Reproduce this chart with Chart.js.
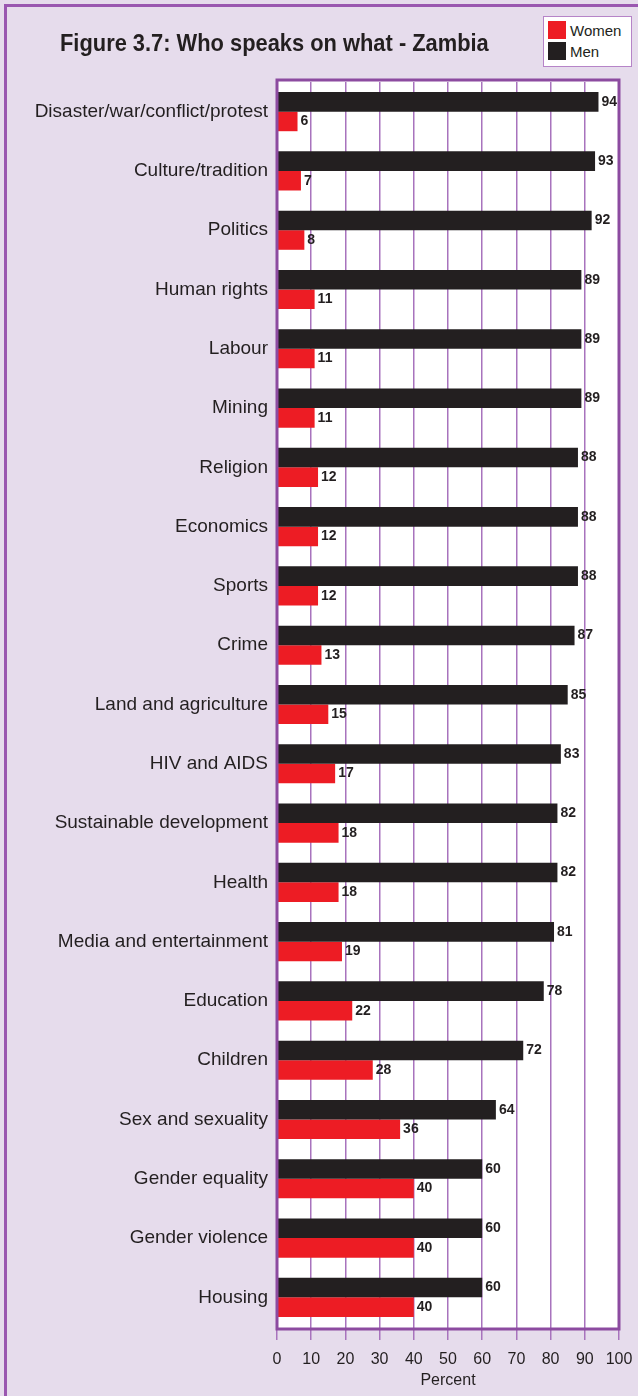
<!DOCTYPE html>
<html>
<head>
<meta charset="utf-8">
<script src="https://cdn.jsdelivr.net/npm/chart.js@4"></script>
<style>
  body { margin: 0; background: #e6dcec; width: 638px; height: 1396px; overflow: hidden; position: relative; }
  #frame { position: absolute; left: 4px; top: 4px; width: 700px; height: 1500px; border-left: 3px solid #9a57b0; border-top: 3px solid #9a57b0; }
  #chart { position: absolute; left: 0; top: 0; }
  #title { position: absolute; left: 60px; top: 29px; font-family: "Liberation Sans", Arial, sans-serif; font-weight: bold; font-size: 24px; line-height: 28px; color: #231f20; white-space: nowrap; transform-origin: 0 0; }
  #legend { position: absolute; left: 543px; top: 16px; width: 87px; height: 49px; background: #fff; border: 1.5px solid #b684c8; font-family: "Liberation Sans", Arial, sans-serif; font-size: 15px; color: #231f20; }
  #legend .item { position: absolute; left: 4px; height: 19px; line-height: 19px; }
  #legend .sw { display: inline-block; width: 18px; height: 18px; vertical-align: top; margin-right: 4px; }
</style>
</head>
<body>
<div id="frame"></div>
<canvas id="chart" width="638" height="1396"></canvas>
<div id="title">Figure 3.7: Who speaks on what - Zambia</div>
<div id="legend"></div>
<script>
const topics = [
  'Disaster/war/conflict/protest', 'Culture/tradition', 'Politics', 'Human rights',
  'Labour', 'Mining', 'Religion', 'Economics', 'Sports', 'Crime',
  'Land and agriculture', 'HIV and AIDS', 'Sustainable development', 'Health',
  'Media and entertainment', 'Education', 'Children', 'Sex and sexuality',
  'Gender equality', 'Gender violence', 'Housing'
];
const men   = [94, 93, 92, 89, 89, 89, 88, 88, 88, 87, 85, 83, 82, 82, 81, 78, 72, 64, 60, 60, 60];
const women = [6, 7, 8, 11, 11, 11, 12, 12, 12, 13, 15, 17, 18, 18, 19, 22, 28, 36, 40, 40, 40];

const RED = '#ed1c24';
const BLACK = '#231f20';
const PURPLE = '#8c4ba0';
const GRID = '#a873bd';
const FONT = '"Liberation Sans", Arial, sans-serif';

// narrow the heading, the font has no condensed cut
const title = document.getElementById('title');
title.style.transform = 'scaleX(' + (429 / title.offsetWidth) + ')';

// legend box, women first
const legendItems = [['Women', RED], ['Men', BLACK]];
const legendBox = document.getElementById('legend');
legendItems.forEach(([name, col], i) => {
  const d = document.createElement('div');
  d.className = 'item';
  d.style.top = (4 + i * 21) + 'px';
  d.innerHTML = '<span class="sw" style="background:' + col + '"></span>' + name;
  legendBox.appendChild(d);
});

// white plot area + thick purple box + value labels
const plotBox = {
  id: 'plotBox',
  beforeDraw(chart) {
    const {ctx, chartArea: a} = chart;
    ctx.save();
    ctx.fillStyle = '#fff';
    ctx.fillRect(a.left, a.top - 2, a.right - a.left, a.bottom - a.top + 4);
    ctx.restore();
  },
  afterDatasetsDraw(chart) {
    const {ctx, chartArea: a} = chart;
    ctx.save();
    ctx.strokeStyle = PURPLE;
    ctx.lineWidth = 3;
    ctx.strokeRect(a.left, a.top - 2, a.right - a.left, a.bottom - a.top + 4);

    ctx.fillStyle = BLACK;
    ctx.font = 'bold 14px ' + FONT;
    ctx.textAlign = 'left';
    ctx.textBaseline = 'middle';
    chart.data.datasets.forEach((ds, i) => {
      chart.getDatasetMeta(i).data.forEach((bar, j) => {
        ctx.fillText(ds.data[j], bar.x + 3, bar.y);
      });
    });
    ctx.restore();
  }
};

new Chart(document.getElementById('chart').getContext('2d'), {
  type: 'bar',
  data: {
    labels: topics,
    datasets: [
      { label: 'Men', data: men, backgroundColor: BLACK },
      { label: 'Women', data: women, backgroundColor: RED }
    ]
  },
  options: {
    indexAxis: 'y',
    responsive: false,
    devicePixelRatio: 1,
    animation: false,
    categoryPercentage: 0.66,
    barPercentage: 1,
    layout: { padding: { top: 82, right: 19, left: 0, bottom: 0 } },
    plugins: { legend: { display: false }, tooltip: { enabled: false } },
    scales: {
      x: {
        min: 0,
        max: 100,
        ticks: { stepSize: 10, color: BLACK, font: { family: FONT, size: 16 }, padding: 10 },
        grid: { color: GRID, lineWidth: 1.5, tickLength: 13 },
        border: { display: false },
        title: { display: true, text: 'Percent', color: BLACK, font: { family: FONT, size: 16 }, padding: { top: 0, bottom: 6 } },
        afterFit(scale) {
          scale.height = 69;
          scale.paddingLeft = 0;
          scale.paddingRight = 0;
        }
      },
      y: {
        ticks: { color: BLACK, font: { family: FONT, size: 19 }, padding: 9 },
        grid: { display: false, drawTicks: false },
        border: { display: false },
        afterFit(scale) { scale.width = 277; }
      }
    }
  },
  plugins: [plotBox]
});
</script>
</body>
</html>
